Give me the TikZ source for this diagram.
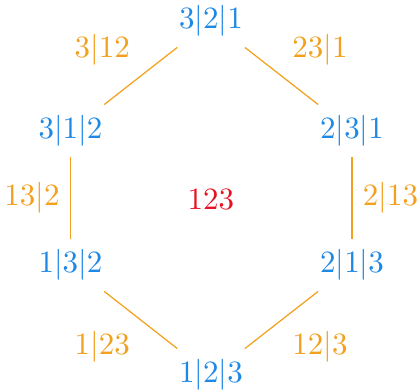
\documentclass[tikz,border=0pt]{standalone}
\usepackage{amsmath}
\usepackage{tikz}

\definecolor{partblue}{RGB}{30,136,229}
\definecolor{partorange}{RGB}{243,160,30}
\definecolor{partred}{RGB}{230,20,35}

\begin{document}
\begin{tikzpicture}[scale=1.0, every node/.style={text=partblue}]
    \useasboundingbox (0,0) rectangle (4.75,4.41);

    % permutations
    \node (p321) at (2.392,4.172) {$3|2|1$};
    \node (p312) at (0.799,2.925) {$3|1|2$};
    \node (p231) at (3.991,2.925) {$2|3|1$};
    \node (p132) at (0.799,1.406) {$1|3|2$};
    \node (p213) at (3.991,1.406) {$2|1|3$};
    \node (p123) at (2.392,0.159) {$1|2|3$};

    % centre
    \node[text=partred] (mid) at (2.392,2.143) {$123$};

    % edges
    \begin{scope}[draw=partorange, every node/.style={text=partorange}]
        \draw (p321) -- node[above left] {$3|12$} (p312);
        \draw (p321) -- node[above right] {$23|1$} (p231);
        \draw (p312) -- node[left] {$13|2$} (p132);
        \draw (p231) -- node[right] {$2|13$} (p213);
        \draw (p132) -- node[below left] {$1|23$} (p123);
        \draw (p213) -- node[below right] {$12|3$} (p123);
    \end{scope}
\end{tikzpicture}
\end{document}
